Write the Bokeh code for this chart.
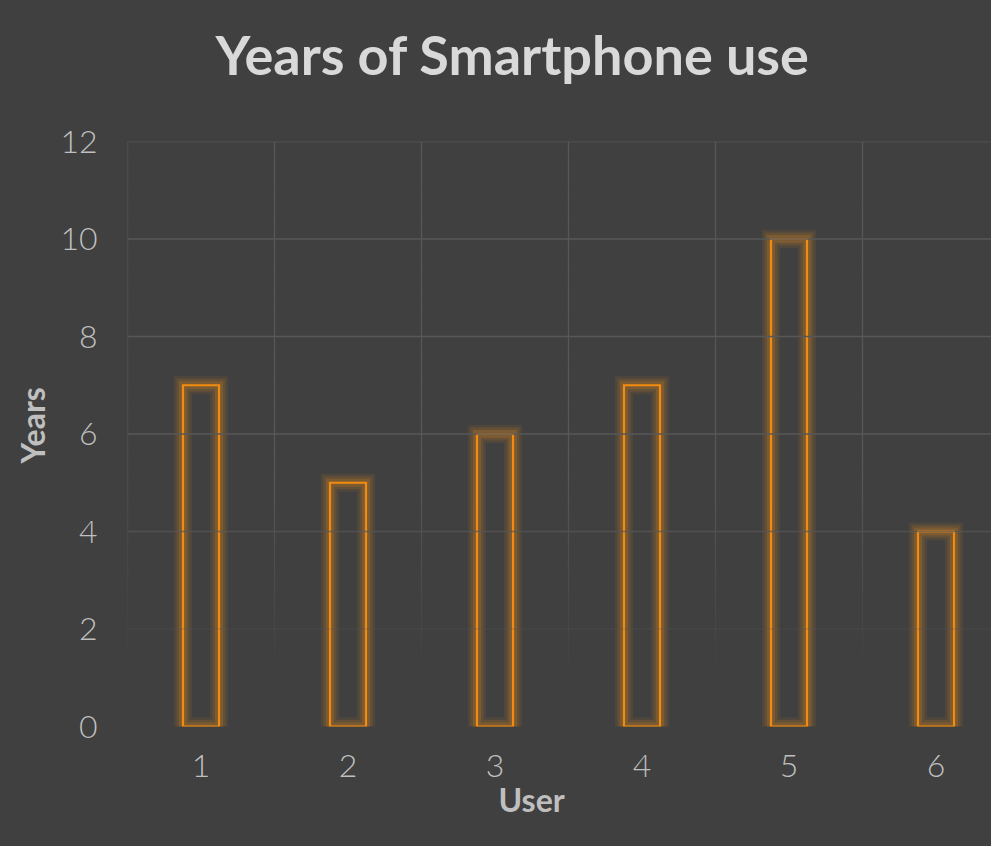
from bokeh.plotting import figure
from bokeh.models import Range1d, FixedTicker, Span, ColumnDataSource, Title
from bokeh.embed import file_html
from bokeh.resources import INLINE

# ---- data ----
users = [1, 2, 3, 4, 5, 6]
years = [7, 5, 6, 7, 10, 4]
y_ticks = [0, 2, 4, 6, 8, 10, 12]
title_text = "Years of Smartphone use"
x_label = "User"
y_label = "Years"

BG = "#404040"
GRID = "#575757"
ORANGE = "#F28C0F"
GLOW = "#E0881C"
LABEL = "#BFBFBF"
TITLE = "#D9D9D9"

# ---- layout (pixels) ----
W, H = 991, 846
FL, FT, FB = 127, 141, 120          # frame left / top / bottom borders
CAT_PX = 147                         # pixels per category
frame_w = W - FL
Y_MAX = 12

p = figure(width=W, height=H, output_backend="svg", toolbar_location=None,
           x_range=Range1d(0.5, 0.5 + frame_w / CAT_PX), y_range=Range1d(0, Y_MAX),
           min_border_left=FL, min_border_right=0, min_border_top=FT,
           min_border_bottom=FB, background_fill_color=None,
           border_fill_color=None, outline_line_color=None)
p.styles = {"background-color": BG}

# title: real title stacked outside a small spacer panel
p.title.text = ""
spacer = Title(text=" ", text_font_size="10px", standoff=42, text_color=BG)
real_title = Title(text=title_text, text_font="Lato", text_font_style="bold",
                   text_font_size="54px", text_color=TITLE, align="left",
                   offset=88, standoff=0)
p.add_layout(spacer, "above")
p.add_layout(real_title, "above")

# axis titles as panel titles (allow exact placement)
x_title = Title(text=x_label, text_font="Lato", text_font_style="bold",
                text_font_size="32px", text_color=LABEL, align="left",
                offset=371, standoff=0, vertical_align="top")
y_title = Title(text=y_label, text_font="Lato", text_font_style="bold",
                text_font_size="32px", text_color=LABEL, align="left",
                offset=263, standoff=10, vertical_align="middle")
p.add_layout(x_title, "below")
p.add_layout(y_title, "left")

# grid: drawn by hand so it can fade toward the bottom
p.xgrid.visible = False
p.ygrid.visible = False

def fade(y):
    return max(0.0, min(1.0, (y - 1.0) / 4.0))

for t in y_ticks[1:]:
    p.add_layout(Span(location=t, dimension="width", line_color=GRID,
                      line_width=1.3, line_alpha=fade(t)))

bounds = [u - 0.5 for u in users]
steps = [i * 0.25 for i in range(49)]
xs0, ys0, xs1, ys1, al = [], [], [], [], []
for b in bounds:
    for a, c in zip(steps[:-1], steps[1:]):
        xs0.append(b); xs1.append(b); ys0.append(a); ys1.append(c)
        al.append(fade((a + c) / 2))
p.segment(x0=xs0, y0=ys0, x1=xs1, y1=ys1, line_color=GRID, line_width=1.3,
          line_alpha=al)

src = ColumnDataSource(dict(x=users, top=years))
bw = 0.245
for lw, a in [(18, 0.10), (13, 0.14), (8, 0.2)]:
    p.vbar(x="x", top="top", bottom=0, width=bw, source=src, fill_color=None,
           line_color=GLOW, line_width=lw, line_alpha=a, line_join="miter")
p.vbar(x="x", top="top", bottom=0, width=bw, source=src, fill_color=None,
       line_color=ORANGE, line_width=2.2, line_join="miter")

p.axis.axis_line_color = None
p.axis.major_tick_line_color = None
p.axis.minor_tick_line_color = None
p.axis.major_label_text_font = "Lato Light"
p.axis.major_label_text_font_size = "32px"
p.axis.major_label_text_color = LABEL

p.xaxis.ticker = FixedTicker(ticks=users)
p.yaxis.ticker = FixedTicker(ticks=y_ticks)
p.xaxis.major_label_standoff = 22
p.yaxis.major_label_standoff = 24

open("out.html", "w").write(file_html(p, INLINE))
